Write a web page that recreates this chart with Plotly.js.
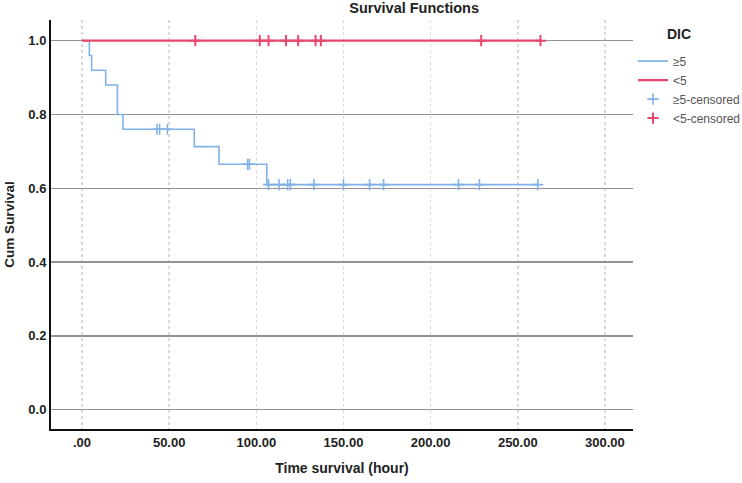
<!DOCTYPE html>
<html>
<head>
<meta charset="utf-8">
<script src="https://cdn.plot.ly/plotly-3.0.1.min.js"></script>
<style>html,body{margin:0;padding:0;background:#fff;}#chart{width:742px;height:483px;}</style>
</head>
<body>
<div id="chart"></div>
<script>
// Step function for DIC >= 5 (event times and survival after each event)
const geTime = [0, 4.2, 5.5, 13.6, 20.3, 23.5, 64.4, 78.6, 106.0, 261.5];
const geSurv = [1.0, 0.96, 0.92, 0.88, 0.80, 0.76, 0.713, 0.665, 0.61, 0.61];
// Censored times, DIC >= 5
const geCensTime = [43, 44.5, 49, 95, 96, 107, 113, 118, 119.5, 133, 150, 165, 173, 216, 228, 261.5];
// Step function for DIC < 5
const ltTime = [0, 263.5];
const ltSurv = [1.0, 1.0];
// Censored times, DIC < 5
const ltCensTime = [65, 102, 107, 117, 124, 134, 137, 229, 263];

const xTickVals = [0, 50, 100, 150, 200, 250, 300];
const xTickText = ['.00', '50.00', '100.00', '150.00', '200.00', '250.00', '300.00'];
const yTickVals = [0, 0.2, 0.4, 0.6, 0.8, 1.0];
const yTickText = ['0.0', '0.2', '0.4', '0.6', '0.8', '1.0'];

function survAt(times, surv, t) {
  let s = surv[0];
  for (let i = 0; i < times.length; i++) { if (times[i] <= t) s = surv[i]; }
  return s;
}

const blue = '#80b2e8';
const red = '#e8486c';
const FONT = 'Liberation Sans, Arial, sans-serif';

const traces = [
  {x: geTime, y: geSurv, mode: 'lines', line: {shape: 'hv', color: blue, width: 1.6}, name: '≥5'},
  {x: ltTime, y: ltSurv, mode: 'lines', line: {shape: 'hv', color: red, width: 2.4}, name: '<5'},
  {x: geCensTime, y: geCensTime.map(t => survAt(geTime, geSurv, t)), mode: 'markers',
   marker: {symbol: 'cross-thin-open', size: 8, color: blue, line: {color: blue, width: 1.6}}, name: '≥5-censored'},
  {x: ltCensTime, y: ltCensTime.map(t => survAt(ltTime, ltSurv, t)), mode: 'markers',
   marker: {symbol: 'cross-thin-open', size: 8, color: red, line: {color: red, width: 2}}, name: '<5-censored'}
];

const layout = {
  width: 742, height: 483,
  margin: {l: 51, r: 109, t: 20, b: 54, autoexpand: false},
  paper_bgcolor: '#ffffff', plot_bgcolor: '#ffffff',
  font: {family: FONT, color: '#222'},
  title: {text: 'Survival Functions', font: {family: FONT, size: 14.5, weight: 'bold', color: '#222'},
          xref: 'paper', x: 0.624, xanchor: 'center', yref: 'container', y: 0.983, yanchor: 'middle'},
  xaxis: {
    range: [-17.8, 316.1], tickvals: xTickVals, ticktext: xTickText,
    showgrid: true, gridcolor: '#d9d9d9', griddash: 'dot', gridwidth: 1.5,
    zeroline: false, showline: true, linecolor: '#111', linewidth: 2, ticks: '',
    tickfont: {family: FONT, size: 13, weight: 'bold', color: '#222'},
    title: {text: 'Time survival (hour)', font: {family: FONT, size: 14, weight: 'bold', color: '#222'}, standoff: 15}
  },
  yaxis: {
    range: [-0.0523, 1.056], tickvals: yTickVals, ticktext: yTickText,
    showgrid: true, gridcolor: '#939393', gridwidth: 1.5,
    zeroline: false, showline: true, linecolor: '#111', linewidth: 2, ticks: '',
    tickfont: {family: FONT, size: 13, weight: 'bold', color: '#222'},
    title: {text: 'Cum Survival', font: {family: FONT, size: 13.5, weight: 'bold', color: '#222'}, standoff: 11}
  },
  showlegend: true,
  legend: {x: 1.0, xanchor: 'left', y: 0.935, yanchor: 'top', bgcolor: 'rgba(0,0,0,0)',
           font: {family: FONT, size: 12, color: '#555'}, tracegroupgap: 0, itemwidth: 30},
  annotations: [
    {text: 'DIC', xref: 'paper', yref: 'paper', x: 1.055, y: 0.965, xanchor: 'left', yanchor: 'middle',
     showarrow: false, font: {family: FONT, size: 14, weight: 'bold', color: '#222'}}
  ]
};

Plotly.newPlot('chart', traces, layout, {displayModeBar: false, staticPlot: true});
</script>
</body>
</html>
